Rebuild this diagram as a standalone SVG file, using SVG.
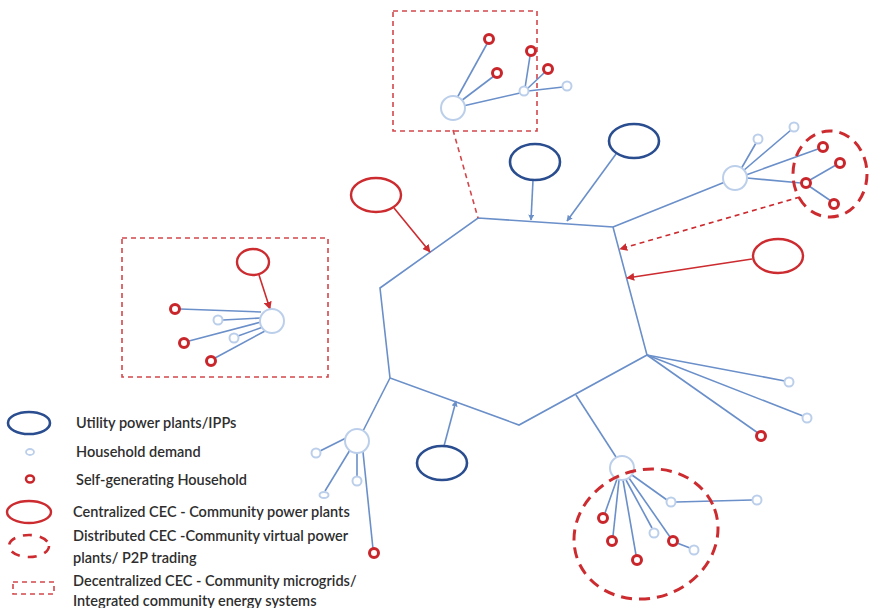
<svg xmlns="http://www.w3.org/2000/svg" width="870" height="608" viewBox="0 0 870 608">
  <style>
    .grid { fill: none; stroke: #6a8fc9; stroke-width: 1.6; }
    .hub { fill: #fff; stroke: #bccfea; stroke-width: 2; }
    .hh { fill: #fff; stroke: #bccfea; stroke-width: 2; }
    .sg { fill: #fff; stroke: #c8262b; stroke-width: 3; }
    .util { fill: none; stroke: #2a4d8f; stroke-width: 2.6; }
    .cent { fill: none; stroke: #cc2b2f; stroke-width: 2.4; }
    .dist { fill: none; stroke: #cc2b2f; stroke-width: 3; stroke-dasharray: 11 7; }
    .dec { fill: none; stroke: #d2474b; stroke-width: 1.6; stroke-dasharray: 5 4; }
    .blue-arrow { fill: none; stroke: #6a8fc9; stroke-width: 1.6; marker-end: url(#ab); }
    .red-arrow { fill: none; stroke: #cc2b2f; stroke-width: 1.6; marker-end: url(#ar); }
    .red-dash-arrow { fill: none; stroke: #cc2b2f; stroke-width: 1.6; stroke-dasharray: 5 4; marker-end: url(#ar); }
    .lbl { font-family: Lato, "Liberation Sans", sans-serif; font-size: 14.5px; font-weight: 600; fill: #2e2e2e; }
  </style>
  <defs>
    <marker id="ab" viewBox="0 0 10 10" refX="9" refY="5" markerWidth="6" markerHeight="6" orient="auto" markerUnits="userSpaceOnUse">
      <path d="M0,0 L10,5 L0,10 z" fill="#6a8fc9"/>
    </marker>
    <marker id="ar" viewBox="0 0 10 10" refX="9" refY="5" markerWidth="8" markerHeight="8" orient="auto" markerUnits="userSpaceOnUse">
      <path d="M0,0 L10,5 L0,10 z" fill="#cc2b2f"/>
    </marker>
  </defs>
  <rect width="870" height="608" fill="#fff"/>

  <!-- connectors: grid ring, feeders and supply arrows -->
  <g id="connectors">
    <polygon class="grid" points="478,218 613,227 647,355 519,425 390,378 380,288"/>
    <!-- top microgrid feeder -->
    <line x1="453" y1="130" x2="478" y2="218" class="dec"/>
    <!-- top-right cluster feeder -->
    <line class="grid" x1="613" y1="227" x2="725" y2="182"/>
    <!-- right-lower feeders -->
    <line class="grid" x1="647" y1="355" x2="785" y2="381"/>
    <line class="grid" x1="647" y1="355" x2="803" y2="416"/>
    <line class="grid" x1="647" y1="355" x2="758" y2="433"/>
    <!-- bottom-right cluster feeder -->
    <line class="grid" x1="576" y1="395" x2="616" y2="457"/>
    <!-- bottom-left cluster feeder -->
    <line class="grid" x1="390" y1="378" x2="363" y2="431"/>
    <!-- supply arrows -->
    <line class="blue-arrow" x1="533" y1="180" x2="531" y2="220"/>
    <line class="blue-arrow" x1="616" y1="154" x2="567" y2="221"/>
    <line class="blue-arrow" x1="444" y1="446" x2="456" y2="401"/>
    <line class="red-arrow" x1="394" y1="208" x2="430" y2="252"/>
    <line class="red-arrow" x1="752" y1="259" x2="627" y2="278"/>
    <line class="red-dash-arrow" x1="800" y1="197" x2="620" y2="249"/>
  </g>

  <!-- supply sources -->
  <g id="utility-1"><ellipse class="util" cx="535" cy="162" rx="25" ry="18"/></g>
  <g id="utility-2"><ellipse class="util" cx="634" cy="141" rx="25" ry="17"/></g>
  <g id="utility-3"><ellipse class="util" cx="442" cy="463" rx="25" ry="17"/></g>
  <g id="central-1"><ellipse class="cent" cx="376" cy="195" rx="25" ry="17"/></g>
  <g id="central-2"><ellipse class="cent" cx="778" cy="256" rx="25" ry="17"/></g>

  <!-- top microgrid -->
  <g id="microgrid-top">
    <rect class="dec" x="393" y="11" width="144" height="120"/>
    <g class="grid">
      <line x1="457" y1="98" x2="488" y2="42"/>
      <line x1="461" y1="101" x2="494" y2="76"/>
      <line x1="463" y1="106" x2="520" y2="93"/>
      <line x1="525" y1="88" x2="530" y2="56"/>
      <line x1="527" y1="89" x2="544" y2="73"/>
      <line x1="528" y1="91" x2="563" y2="87"/>
    </g>
    <circle class="hub" cx="453" cy="108" r="12"/>
    <circle class="hh" cx="524" cy="91" r="4.5"/>
    <circle class="hh" cx="567" cy="86" r="4.5"/>
    <circle class="sg" cx="489" cy="39" r="4.5"/>
    <circle class="sg" cx="531" cy="51" r="4.5"/>
    <circle class="sg" cx="497" cy="73" r="4.5"/>
    <circle class="sg" cx="548" cy="69" r="4.5"/>
  </g>

  <!-- top-right virtual power plant cluster -->
  <g id="vpp-top-right">
    <g class="grid">
      <line x1="741" y1="169" x2="756" y2="143"/>
      <line x1="743" y1="171" x2="791" y2="130"/>
      <line x1="746" y1="175" x2="818" y2="149"/>
      <line x1="747" y1="178" x2="801" y2="183"/>
      <line x1="810" y1="180" x2="836" y2="165"/>
      <line x1="809" y1="186" x2="831" y2="201"/>
    </g>
    <circle class="hub" cx="735" cy="178" r="12"/>
    <circle class="hh" cx="758" cy="139" r="4.5"/>
    <circle class="hh" cx="794" cy="127" r="4.5"/>
    <circle class="sg" cx="823" cy="147" r="4.5"/>
    <circle class="sg" cx="840" cy="163" r="4.5"/>
    <circle class="sg" cx="806" cy="183" r="4.5"/>
    <circle class="sg" cx="834" cy="204" r="4.5"/>
    <ellipse class="dist" cx="830" cy="174" rx="37" ry="43"/>
  </g>

  <!-- left microgrid -->
  <g id="microgrid-left">
    <rect class="dec" x="122" y="238" width="206" height="139"/>
    <ellipse class="cent" cx="253" cy="262" rx="16" ry="13"/>
    <line class="red-arrow" x1="259" y1="275" x2="270" y2="309"/>
    <g class="grid">
      <line x1="261" y1="312" x2="180" y2="309"/>
      <line x1="261" y1="318" x2="223" y2="320"/>
      <line x1="261" y1="322" x2="189" y2="341"/>
      <line x1="263" y1="327" x2="238" y2="336"/>
      <line x1="265" y1="331" x2="215" y2="358"/>
    </g>
    <circle class="hub" cx="272" cy="321" r="12"/>
    <circle class="hh" cx="218" cy="320" r="4.5"/>
    <circle class="hh" cx="234" cy="338" r="4.5"/>
    <circle class="sg" cx="175" cy="309" r="4.5"/>
    <circle class="sg" cx="184" cy="343" r="4.5"/>
    <circle class="sg" cx="211" cy="361" r="4.5"/>
  </g>

  <!-- bottom-left cluster -->
  <g id="cluster-bottom-left">
    <g class="grid">
      <line x1="346" y1="438" x2="320" y2="451"/>
      <line x1="350" y1="450" x2="325" y2="491"/>
      <line x1="357" y1="453" x2="357" y2="477"/>
      <line x1="363" y1="452" x2="373" y2="549"/>
    </g>
    <circle class="hub" cx="357" cy="441" r="12"/>
    <circle class="hh" cx="316" cy="453" r="4.5"/>
    <circle class="hh" cx="357" cy="481" r="4.5"/>
    <ellipse class="hh" cx="324" cy="495" rx="4.5" ry="3"/>
    <circle class="sg" cx="374" cy="553" r="4.5"/>
  </g>

  <!-- right-lower households -->
  <g id="households-right">
    <circle class="hh" cx="789" cy="382" r="4.5"/>
    <circle class="hh" cx="807" cy="418" r="4.5"/>
    <circle class="sg" cx="761" cy="436" r="4.5"/>
  </g>

  <!-- bottom-right virtual power plant cluster -->
  <g id="vpp-bottom-right">
    <g class="grid">
      <line x1="617" y1="479" x2="605" y2="513"/>
      <line x1="619" y1="480" x2="613" y2="536"/>
      <line x1="623" y1="480" x2="636" y2="555"/>
      <line x1="626" y1="480" x2="652" y2="528"/>
      <line x1="629" y1="478" x2="670" y2="537"/>
      <line x1="632" y1="475" x2="667" y2="500"/>
      <line x1="676" y1="502" x2="752" y2="500"/>
      <line x1="677" y1="543" x2="690" y2="548"/>
    </g>
    <circle class="hub" cx="622" cy="468" r="12"/>
    <circle class="hh" cx="671" cy="502" r="4.5"/>
    <circle class="hh" cx="757" cy="500" r="4.5"/>
    <circle class="hh" cx="654" cy="533" r="4.5"/>
    <circle class="hh" cx="694" cy="550" r="4.5"/>
    <circle class="sg" cx="603" cy="518" r="4.5"/>
    <circle class="sg" cx="612" cy="541" r="4.5"/>
    <circle class="sg" cx="637" cy="560" r="4.5"/>
    <circle class="sg" cx="673" cy="541" r="4.5"/>
    <ellipse class="dist" cx="646" cy="534" rx="73" ry="64" transform="rotate(-20 646 534)"/>
  </g>

  <!-- legend -->
  <g id="legend">
    <ellipse class="util" cx="29" cy="423" rx="21" ry="11"/>
    <text class="lbl" x="76" y="428">Utility power plants/IPPs</text>
    <ellipse cx="30" cy="452" rx="4" ry="3" fill="#fff" stroke="#bccfea" stroke-width="1.8"/>
    <text class="lbl" x="76" y="457">Household demand</text>
    <ellipse cx="30" cy="479" rx="4" ry="3.5" fill="#fff" stroke="#c8262b" stroke-width="2.5"/>
    <text class="lbl" x="76" y="485">Self-generating Household</text>
    <ellipse class="cent" cx="29" cy="512" rx="22" ry="11"/>
    <text class="lbl" x="73" y="517">Centralized CEC - Community power plants</text>
    <ellipse cx="29" cy="546" rx="20" ry="11" fill="none" stroke="#cc2b2f" stroke-width="2.6" stroke-dasharray="9 8"/>
    <text class="lbl" x="73" y="541">Distributed CEC -Community virtual power</text>
    <text class="lbl" x="73" y="563">plants/ P2P trading</text>
    <rect class="dec" x="13" y="582" width="41" height="12"/>
    <text class="lbl" x="73" y="586">Decentralized CEC - Community microgrids/</text>
    <text class="lbl" x="73" y="606">Integrated community energy systems</text>
  </g>
</svg>
